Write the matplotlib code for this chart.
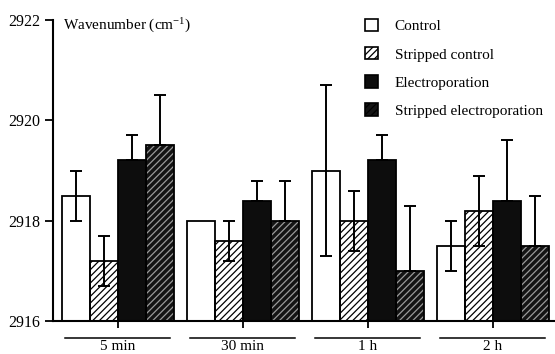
import matplotlib
matplotlib.use("Agg")
import matplotlib.pyplot as plt
import matplotlib.transforms as mtransforms
from matplotlib.patches import Patch
import numpy as np

groups = ["5 min", "30 min", "1 h", "2 h"]
series = ["Control", "Stripped control", "Electroporation", "Stripped electroporation"]
values = {
    "Control":                  [2918.5, 2918.0, 2919.0, 2917.5],
    "Stripped control":         [2917.2, 2917.6, 2918.0, 2918.2],
    "Electroporation":          [2919.2, 2918.4, 2919.2, 2918.4],
    "Stripped electroporation": [2919.5, 2918.0, 2917.0, 2917.5],
}
errors = {
    "Control":                  [0.5, 0.0, 1.7, 0.5],
    "Stripped control":         [0.5, 0.4, 0.6, 0.7],
    "Electroporation":          [0.5, 0.4, 0.5, 1.2],
    "Stripped electroporation": [1.0, 0.8, 1.3, 1.0],
}
yticks = [2916, 2918, 2920, 2922]

plt.rcParams["font.family"] = ["Liberation Serif", "DejaVu Serif"]
plt.rcParams["mathtext.fontset"] = "custom"
plt.rcParams["mathtext.rm"] = "Liberation Serif"
plt.rcParams["mathtext.it"] = "Liberation Serif:italic"
plt.rcParams["mathtext.default"] = "rm"
plt.rcParams["hatch.linewidth"] = 0.9

styles = {
    "Control":                  dict(face="white", hatch=None, hcol="black"),
    "Stripped control":         dict(face="white", hatch="/////", hcol="black"),
    "Electroporation":          dict(face="#0d0d0d", hatch=None, hcol="black"),
    "Stripped electroporation": dict(face="#141414", hatch="/////", hcol="#9a9a9a"),
}
lower_visible = {"Control": True, "Stripped control": True,
                 "Electroporation": False, "Stripped electroporation": False}

fig = plt.figure(figsize=(5.55, 3.54), dpi=100)
ax = fig.add_axes([0.0955, 0.0932, 0.9045, 0.8503])

base = 2916
width = 0.224
x = np.arange(len(groups))
for i, s in enumerate(series):
    pos = x + (i - 1.5) * width
    v = np.array(values[s])
    st = styles[s]
    ax.bar(pos, v - base, width, bottom=base, color=st["face"],
           edgecolor=st["hcol"], hatch=st["hatch"], linewidth=0, zorder=2)
    ax.bar(pos, v - base, width, bottom=base, fill=False,
           edgecolor="black", linewidth=1.3, zorder=3)
    e = np.array(errors[s])
    lo = e if lower_visible[s] else np.zeros_like(e)
    mask = e > 0
    ax.errorbar(pos[mask], v[mask], yerr=[lo[mask], e[mask]], fmt="none",
                ecolor="black", elinewidth=1.4, capsize=4, capthick=1.4, zorder=4)

ax.set_ylim(2916, 2922)
ax.set_xlim(-0.52, 3.5)
ax.set_yticks(yticks)
ax.set_yticklabels([str(t) for t in yticks], fontsize=11.5)
ax.set_xticks(x)
ax.set_xticklabels(groups, fontsize=11)
ax.tick_params(axis="x", direction="out", length=5, width=1.3, pad=9)
ax.tick_params(axis="y", direction="out", length=6, width=1.3, pad=3)
for sp in ["top", "right"]:
    ax.spines[sp].set_visible(False)
ax.spines["left"].set_linewidth(1.5)
ax.spines["bottom"].set_linewidth(1.5)

trans = mtransforms.blended_transform_factory(ax.transData, ax.transAxes)
for xi in x:
    ax.plot([xi - 0.42, xi + 0.42], [-0.056, -0.056], color="black", lw=1.1,
            transform=trans, clip_on=False)

ax.text(0.02, 1.01, r"Wavenumber (cm$^{-1}$)", transform=ax.transAxes,
        fontsize=11, va="top", ha="left")

handles = []
for s in series:
    st = styles[s]
    handles.append(Patch(facecolor=st["face"], edgecolor="black", hatch=st["hatch"],
                         linewidth=1.2, label=s))
leg = fig.legend(handles=handles, loc="upper left", bbox_to_anchor=(0.633, 0.985),
                 frameon=False, fontsize=11, handlelength=0.85, handleheight=0.85,
                 handletextpad=1.1, labelspacing=0.9)

fig.savefig("out.png", dpi=100)
